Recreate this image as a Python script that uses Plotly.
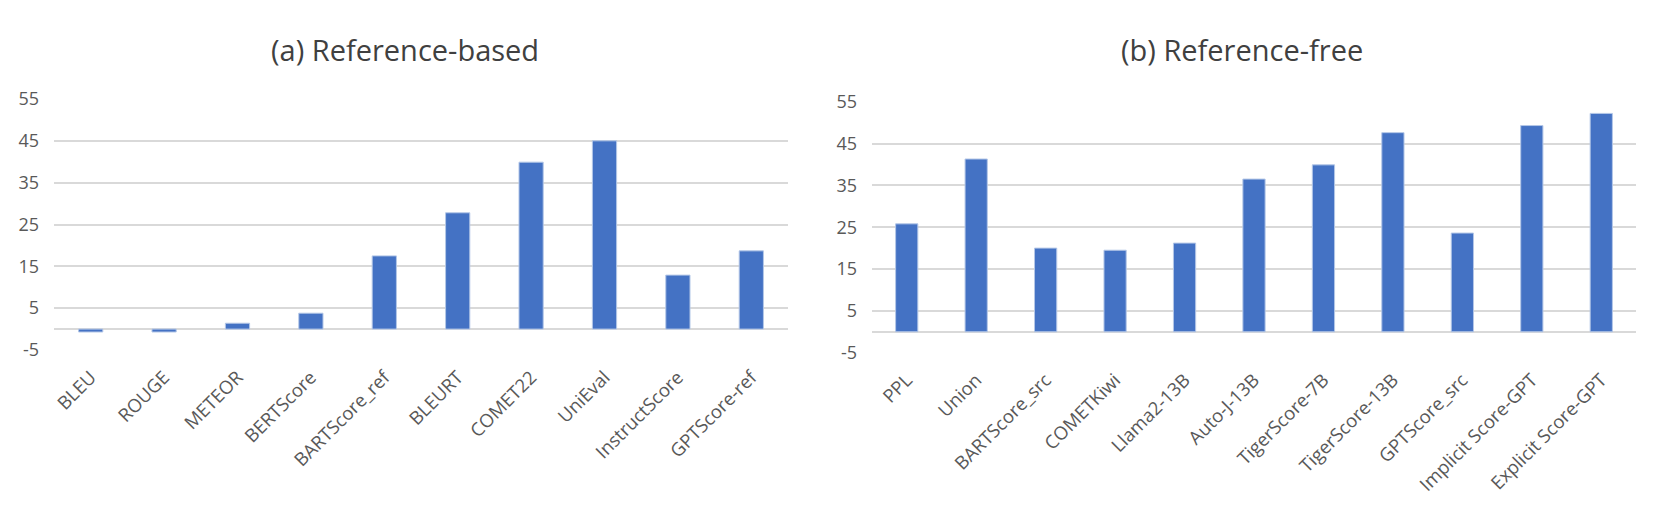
import plotly.graph_objects as go

# (a) Reference-based metrics
ref_based_names = ["BLEU", "ROUGE", "METEOR", "BERTScore", "BARTScore_ref",
                   "BLEURT", "COMET22", "UniEval", "InstructScore", "GPTScore-ref"]
ref_based_vals = [-0.7, -0.7, 1.4, 3.8, 17.5, 27.8, 39.9, 45.0, 12.9, 18.7]

# (b) Reference-free metrics
ref_free_names = ["PPL", "Union", "BARTScore_src", "COMETKiwi", "Llama2-13B",
                  "Auto-J-13B", "TigerScore-7B", "TigerScore-13B", "GPTScore_src",
                  "Implicit Score-GPT", "Explicit Score-GPT"]
ref_free_vals = [25.8, 41.3, 20.0, 19.5, 21.2, 36.5, 39.9, 47.6, 23.6, 49.3, 52.2]

y_ticks = [-5, 5, 15, 25, 35, 45, 55]

bar_color = "#4472C4"
grid_color = "#d9d9d9"
text_color = "#595959"
font_family = "Open Sans, Noto Sans, sans-serif"

W, H = 1661, 512
OFF = 8  # page body margin offset

fig = go.Figure()

fig.add_trace(go.Bar(
    x=ref_based_names, y=ref_based_vals, xaxis="x", yaxis="y",
    marker=dict(color=bar_color, line=dict(color="#b4c7e7", width=1)),
    width=0.33, showlegend=False,
))
fig.add_trace(go.Bar(
    x=ref_free_names, y=ref_free_vals, xaxis="x2", yaxis="y2",
    marker=dict(color=bar_color, line=dict(color="#b4c7e7", width=1)),
    width=0.32, showlegend=False,
))

def xaxis_style(domain, anchor):
    return dict(
        domain=domain, anchor=anchor, type="category", automargin=False,
        tickangle=-45, showgrid=False, showline=False, zeroline=False,
        ticks="", ticklabelstandoff=12,
        tickfont=dict(family=font_family, size=18.5, color=text_color),
    )

def yaxis_style(domain, anchor):
    return dict(
        domain=domain, anchor=anchor, range=[-5, 55], automargin=False,
        tickvals=y_ticks, ticktext=[str(v) for v in y_ticks],
        showgrid=True, gridcolor=grid_color, gridwidth=1.5,
        zeroline=True, zerolinecolor=grid_color, zerolinewidth=2,
        showline=False, ticks="", ticklabelstandoff=14,
        tickfont=dict(family=font_family, size=18, color=text_color),
    )

fig.update_layout(
    width=W, height=H,
    margin=dict(l=0, r=0, t=0, b=0, pad=0),
    paper_bgcolor="white", plot_bgcolor="white",
    bargap=0.67,
    xaxis=xaxis_style([(54 - OFF) / W, (788 - OFF) / W], "y"),
    yaxis=yaxis_style([1 - (350 - OFF) / H, 1 - (99 - OFF) / H], "x"),
    xaxis2=xaxis_style([(872 - OFF) / W, (1636 - OFF) / W], "y2"),
    yaxis2=yaxis_style([1 - (352.7 - OFF) / H, 1 - (101.7 - OFF) / H], "x2"),
)

fig.add_annotation(text="(a) Reference-based", xref="paper", yref="paper",
                   x=(405 - OFF) / W, y=1 - (49 - OFF) / H,
                   xanchor="center", yanchor="middle", showarrow=False,
                   font=dict(family=font_family, size=29, color="#404040"))
fig.add_annotation(text="(b) Reference-free", xref="paper", yref="paper",
                   x=(1242 - OFF) / W, y=1 - (49 - OFF) / H,
                   xanchor="center", yanchor="middle", showarrow=False,
                   font=dict(family=font_family, size=29, color="#404040"))

fig.write_html("out.html")
